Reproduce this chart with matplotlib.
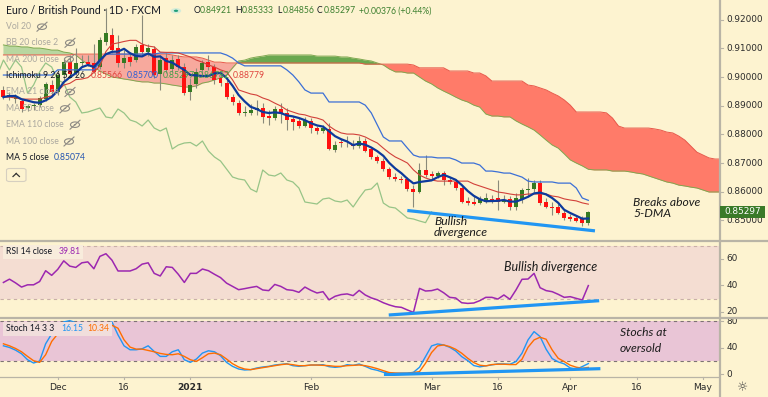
import numpy as np
import pandas as pd
import matplotlib
matplotlib.use("Agg")
import matplotlib.pyplot as plt
from matplotlib.patches import Rectangle, Ellipse, Circle, FancyBboxPatch
from matplotlib.lines import Line2D
from matplotlib.transforms import blended_transform_factory

plt.rcParams['font.family'] = ['Lato', 'DejaVu Sans']

# ---------------- data ----------------
first_date = '2020-11-18'
holidays = ['2020-12-25', '2021-01-01']

opens = [0.89548, 0.89304, 0.89234, 0.89164, 0.88920, 0.88990, 0.89025, 0.89234, 0.89722,
         0.89478, 0.90071, 0.90524, 0.90141, 0.90490, 0.90524, 0.90490, 0.90350, 0.91222, 0.91466,
         0.91013, 0.90490, 0.90699, 0.90594, 0.91117, 0.90873, 0.90978, 0.90106, 0.90664, 0.90280,
         0.90629, 0.90350, 0.89478, 0.89757, 0.90245, 0.90524, 0.90350, 0.89966, 0.89792, 0.89304,
         0.89094, 0.88746, 0.88746, 0.88850, 0.88920, 0.88641, 0.88571, 0.88885, 0.88746, 0.88536,
         0.88467, 0.88292, 0.88467, 0.88222, 0.88118, 0.88187, 0.87455, 0.87734, 0.87734, 0.87664,
         0.87595, 0.87769, 0.87490, 0.87211, 0.87071, 0.86792, 0.86513, 0.86443, 0.86443, 0.86095,
         0.85990, 0.86757, 0.86618, 0.86548, 0.86653, 0.86409, 0.86339, 0.86130, 0.85676, 0.85641,
         0.85606, 0.85641, 0.85746, 0.85781, 0.85641, 0.85746, 0.85467, 0.85746, 0.86060, 0.86095,
         0.86304, 0.85641, 0.85467, 0.85467, 0.85258, 0.85118, 0.85083, 0.85083, 0.84921]
highs = [0.89687, 0.89478, 0.89408, 0.89234, 0.89059, 0.89094, 0.89339, 0.89827, 0.89897,
         0.90245, 0.90664, 0.90769, 0.91013, 0.90769, 0.90769, 0.91152, 0.91396, 0.92408, 0.91710,
         0.91466, 0.90943, 0.90873, 0.91152, 0.92164, 0.91152, 0.91083, 0.90769, 0.90838, 0.90769,
         0.90769, 0.90490, 0.89966, 0.90315, 0.90594, 0.90769, 0.90455, 0.90106, 0.89897, 0.89408,
         0.89199, 0.88990, 0.89059, 0.89199, 0.89094, 0.88850, 0.88990, 0.89094, 0.88920, 0.88641,
         0.88571, 0.88606, 0.88571, 0.88292, 0.88327, 0.88397, 0.87769, 0.87839, 0.87943, 0.87804,
         0.87943, 0.87874, 0.87560, 0.87281, 0.87176, 0.86862, 0.86653, 0.86548, 0.86513, 0.86234,
         0.87002, 0.87281, 0.86723, 0.86723, 0.86723, 0.86513, 0.86443, 0.86199, 0.85816, 0.85885,
         0.85851, 0.85955, 0.85885, 0.86409, 0.85885, 0.85851, 0.85955, 0.86130, 0.86478, 0.86409,
         0.86409, 0.85781, 0.85641, 0.85571, 0.85362, 0.85223, 0.85188, 0.85153, 0.85333]
lows = [0.89234, 0.89199, 0.89094, 0.88780, 0.88815, 0.88850, 0.88955, 0.89164, 0.89373,
        0.89373, 0.89897, 0.89966, 0.90071, 0.90385, 0.90385, 0.90141, 0.90280, 0.91117, 0.90838,
        0.90350, 0.90315, 0.90385, 0.90524, 0.90769, 0.90734, 0.89966, 0.89548, 0.90141, 0.90176,
        0.90245, 0.89373, 0.89199, 0.89618, 0.90106, 0.90245, 0.89757, 0.89687, 0.89234, 0.89025,
        0.88676, 0.88641, 0.88676, 0.88676, 0.88397, 0.88327, 0.88501, 0.88397, 0.88153, 0.88153,
        0.88222, 0.88257, 0.88048, 0.88013, 0.88048, 0.87455, 0.87385, 0.87560, 0.87560, 0.87490,
        0.87525, 0.87385, 0.87141, 0.87002, 0.86723, 0.86443, 0.86374, 0.86304, 0.86025, 0.85467,
        0.85955, 0.86513, 0.86443, 0.86478, 0.86234, 0.86269, 0.86060, 0.85606, 0.85537, 0.85537,
        0.85571, 0.85606, 0.85606, 0.85362, 0.85606, 0.85362, 0.85362, 0.85606, 0.85816, 0.85990,
        0.85537, 0.85432, 0.85188, 0.85223, 0.85013, 0.84979, 0.84944, 0.84804, 0.84856]
closes = [0.89304, 0.89373, 0.89339, 0.88885, 0.88990, 0.89025, 0.89269, 0.89757, 0.89478,
          0.90071, 0.90524, 0.90106, 0.90490, 0.90524, 0.90455, 0.90176, 0.91292, 0.91536, 0.90943,
          0.90490, 0.90664, 0.90524, 0.91048, 0.90873, 0.91013, 0.90071, 0.90594, 0.90245, 0.90594,
          0.90350, 0.89443, 0.89722, 0.90176, 0.90490, 0.90350, 0.89897, 0.89792, 0.89304, 0.89129,
          0.88746, 0.88780, 0.88850, 0.88920, 0.88606, 0.88571, 0.88885, 0.88746, 0.88501, 0.88432,
          0.88292, 0.88501, 0.88222, 0.88118, 0.88222, 0.87490, 0.87629, 0.87699, 0.87717, 0.87595,
          0.87769, 0.87420, 0.87211, 0.87071, 0.86792, 0.86513, 0.86443, 0.86409, 0.86095, 0.85990,
          0.86757, 0.86583, 0.86548, 0.86653, 0.86409, 0.86339, 0.86130, 0.85641, 0.85606, 0.85571,
          0.85746, 0.85781, 0.85676, 0.85641, 0.85711, 0.85467, 0.85781, 0.86060, 0.86095, 0.86304,
          0.85606, 0.85467, 0.85432, 0.85258, 0.85083, 0.85048, 0.84979, 0.84921, 0.85297]

tenkan = [0.8930, 0.8930, 0.8927, 0.8923, 0.8923, 0.8923, 0.8923, 0.8930, 0.8934,
          0.8951, 0.8972, 0.8978, 0.8991, 0.8993, 0.8998, 0.9016, 0.9039, 0.9089, 0.9115,
          0.9119, 0.9124, 0.9128, 0.9128, 0.9115, 0.9108, 0.9105, 0.9087, 0.9086, 0.9086,
          0.9084, 0.9077, 0.9070, 0.9059, 0.9052, 0.9042, 0.9035, 0.9025, 0.9018, 0.8990,
          0.8955, 0.8948, 0.8941, 0.8937, 0.8927, 0.8920, 0.8909, 0.8899, 0.8885, 0.8878,
          0.8871, 0.8868, 0.8861, 0.8857, 0.8850, 0.8829, 0.8815, 0.8805, 0.8801, 0.8801,
          0.8798, 0.8791, 0.8780, 0.8770, 0.8752, 0.8735, 0.8721, 0.8711, 0.8700, 0.8676,
          0.8658, 0.8648, 0.8641, 0.8637, 0.8637, 0.8637, 0.8637, 0.8637, 0.8637, 0.8627,
          0.8620, 0.8613, 0.8606, 0.8599, 0.8596, 0.8592, 0.8589, 0.8589, 0.8592, 0.8592,
          0.8592, 0.8592, 0.8585, 0.8582, 0.8575, 0.8571, 0.8568, 0.8561, 0.85566]
kijun = [0.9007, 0.9007, 0.9007, 0.9007, 0.9007, 0.9007, 0.9007, 0.9007, 0.9007,
         0.9025, 0.9025, 0.9025, 0.9025, 0.9025, 0.9025, 0.9025, 0.9052, 0.9080, 0.9080,
         0.9080, 0.9080, 0.9080, 0.9080, 0.9080, 0.9080, 0.9080, 0.9084, 0.9084, 0.9084,
         0.9084, 0.9084, 0.9084, 0.9084, 0.9084, 0.9084, 0.9084, 0.9084, 0.9077, 0.9066,
         0.9049, 0.9039, 0.9039, 0.9039, 0.9039, 0.9039, 0.9039, 0.9039, 0.9025, 0.9007,
         0.8983, 0.8955, 0.8944, 0.8944, 0.8944, 0.8913, 0.8913, 0.8913, 0.8913, 0.8913,
         0.8913, 0.8902, 0.8875, 0.8833, 0.8791, 0.8777, 0.8777, 0.8777, 0.8752, 0.8728,
         0.8721, 0.8721, 0.8721, 0.8718, 0.8718, 0.8718, 0.8711, 0.8700, 0.8700, 0.8700,
         0.8693, 0.8672, 0.8672, 0.8669, 0.8665, 0.8665, 0.8658, 0.8651, 0.8637, 0.8634,
         0.8634, 0.8634, 0.8634, 0.8630, 0.8630, 0.8630, 0.8613, 0.8578, 0.85700]

# leading spans, from the first bar to 26 bars past the last bar
span_a = [0.9112, 0.9108, 0.9108, 0.9105, 0.9105, 0.9101, 0.9101, 0.9098, 0.9094,
          0.9094, 0.9087, 0.9084, 0.9077, 0.9059, 0.9045, 0.9035, 0.9021, 0.9011, 0.9000,
          0.8997, 0.8993, 0.8990, 0.8986, 0.8983, 0.8983, 0.8979, 0.8979, 0.8976, 0.8972,
          0.8969, 0.8965, 0.8965, 0.8969, 0.8979, 0.8983, 0.8990, 0.8997, 0.9007, 0.9032,
          0.9056, 0.9059, 0.9066, 0.9070, 0.9073, 0.9077, 0.9077, 0.9077, 0.9077, 0.9077,
          0.9077, 0.9077, 0.9077, 0.9073, 0.9073, 0.9073, 0.9073, 0.9070, 0.9070, 0.9066,
          0.9063, 0.9059, 0.9056, 0.9049, 0.9042, 0.9028, 0.9018, 0.9018, 0.9014, 0.9014,
          0.9000, 0.8986, 0.8976, 0.8962, 0.8951, 0.8941, 0.8930, 0.8920, 0.8913, 0.8902,
          0.8895, 0.8871, 0.8864, 0.8864, 0.8861, 0.8861, 0.8847, 0.8836, 0.8826, 0.8815,
          0.8798, 0.8780, 0.8763, 0.8752, 0.8732, 0.8711, 0.8700, 0.8690, 0.86782, 0.8676,
          0.8676, 0.8676, 0.8672, 0.8672, 0.8672, 0.8669, 0.8665, 0.8662, 0.8655, 0.8648,
          0.8641, 0.8634, 0.8630, 0.8623, 0.8620, 0.8616, 0.8613, 0.8606, 0.8599, 0.8599,
          0.8599, 0.8599, 0.8599, 0.8599, 0.8599]
span_b = [0.9077, 0.9077, 0.9077, 0.9077, 0.9077, 0.9077, 0.9077, 0.9077, 0.9077,
          0.9077, 0.9077, 0.9077, 0.9080, 0.9080, 0.9080, 0.9080, 0.9080, 0.9080, 0.9080,
          0.9080, 0.9080, 0.9080, 0.9080, 0.9080, 0.9080, 0.9080, 0.9080, 0.9080, 0.9077,
          0.9073, 0.9070, 0.9070, 0.9070, 0.9066, 0.9059, 0.9052, 0.9052, 0.9049, 0.9049,
          0.9049, 0.9049, 0.9049, 0.9049, 0.9049, 0.9049, 0.9049, 0.9049, 0.9049, 0.9049,
          0.9049, 0.9049, 0.9049, 0.9049, 0.9049, 0.9049, 0.9049, 0.9049, 0.9049, 0.9049,
          0.9049, 0.9045, 0.9045, 0.9045, 0.9045, 0.9045, 0.9045, 0.9045, 0.9045, 0.9042,
          0.9032, 0.9032, 0.9032, 0.9032, 0.9032, 0.9021, 0.9021, 0.9021, 0.9021, 0.9014,
          0.9014, 0.9004, 0.8986, 0.8986, 0.8986, 0.8986, 0.8986, 0.8986, 0.8972, 0.8969,
          0.8962, 0.8955, 0.8944, 0.8934, 0.8920, 0.8902, 0.8878, 0.8878, 0.88779, 0.8878,
          0.8878, 0.8875, 0.8857, 0.8829, 0.8822, 0.8822, 0.8822, 0.8822, 0.8822, 0.8819,
          0.8815, 0.8808, 0.8805, 0.8794, 0.8780, 0.8759, 0.8738, 0.8728, 0.8718, 0.8714,
          0.8714, 0.8714, 0.8714, 0.8714, 0.8714]

rsi = [42.2, 44.7, 41.9, 38.7, 40.4, 40.4, 42.9, 51.1, 47.6,
       52.1, 58.6, 54.6, 53.6, 57.1, 57.8, 52.6, 62.0, 64.0, 59.1,
       50.9, 50.9, 50.9, 52.6, 56.1, 57.1, 49.1, 47.1, 54.1, 53.6,
       48.4, 42.2, 49.1, 49.1, 52.4, 51.1, 48.4, 45.9, 41.7, 39.2,
       36.7, 37.5, 38.4, 39.2, 36.5, 36.0, 40.7, 39.2, 36.7, 36.2,
       34.7, 38.7, 36.2, 34.2, 35.2, 29.0, 31.7, 33.0, 33.5, 32.2,
       36.2, 32.7, 30.5, 29.0, 26.8, 25.1, 23.8, 23.3, 21.3, 19.5,
       37.7, 35.7, 36.0, 37.2, 34.4, 30.9, 30.4, 26.8, 26.3, 26.6,
       28.4, 30.9, 30.9, 29.6, 32.7, 29.4, 36.5, 44.6, 44.8, 49.1,
       38.2, 36.0, 35.2, 33.2, 30.9, 31.4, 30.1, 28.9, 39.81]
stoch_k = [43, 40.5, 36.5, 31, 22, 17, 20, 46, 61,
           71, 79, 81, 78, 74.5, 71, 67, 71, 75.5, 79,
           59.5, 43, 37, 37, 38.5, 43, 34.5, 27, 27, 34,
           37, 22, 18, 23, 32, 35.5, 34, 28, 18, 12,
           8, 6.5, 7, 9.5, 11, 12, 14, 15, 16, 13,
           12, 13, 14, 14, 14.5, 11.5, 10.5, 11.5, 14.5, 13.5,
           15.5, 12, 8, 6, 3, 1.6, 1, 1.6, 1.6, 3,
           10.6, 26.7, 42.8, 45.8, 44.3, 40.8, 35.3, 26.7, 20.7, 13.2,
           11.2, 12.7, 14.2, 15.7, 15.7, 15.2, 19.2, 31.8, 51.9, 64.4,
           56.9, 37.8, 23.7, 18.7, 15.7, 9.6, 7.6, 11.7, 16.15]
stoch_d = [46, 43, 39, 34, 27, 20.5, 18, 29.5, 49.5,
           61, 72, 78, 78, 76, 73, 71, 71, 73, 74,
           69.5, 52, 41, 38, 38, 36, 34, 31.5, 30, 29.5,
           31, 27, 22, 19.5, 25, 31, 32, 29.5, 23, 16,
           11, 8, 7, 8.5, 10, 11.5, 13, 14.5, 15.5, 14.5,
           13, 13, 14, 14, 13.5, 13, 12, 12, 13, 13.5,
           14, 13, 11, 8.5, 5.5, 2.6, 2, 1.6, 1.6, 2.6,
           4, 16.7, 32.8, 42.8, 44.3, 41.8, 37.8, 31.8, 24.2, 17.7,
           13.7, 12.7, 14.7, 15.2, 15.2, 14.7, 14.7, 22.7, 40.8, 51.9,
           55.9, 52.9, 36.8, 24.2, 19.2, 13.7, 10.7, 9.1, 10.34]

# hand-drawn trend lines (bar offset, value)
price_div = [(66.98, 0.85345), (98.1, 0.84635)]
rsi_div = [(63.9, 17.5), (98.8, 28.35)]
stoch_div = [(63.1, -0.6), (99.0, 8.5)]

price_ticks = [0.92, 0.91, 0.90, 0.89, 0.88, 0.87, 0.86, 0.85]
rsi_ticks = [60, 40, 20]
stoch_ticks = [80, 40, 0]
time_tick_dates = ['2020-12-01', '2020-12-16', '2021-01-04', '2021-02-01', '2021-03-01',
                   '2021-03-16', '2021-04-01', '2021-04-16', '2021-05-03']
time_tick_labels = ['Dec', '16', '2021', 'Feb', 'Mar', '16', 'Apr', '16', 'May']

# ---------------- derived ----------------
o = np.array(opens); h = np.array(highs); l = np.array(lows); c = np.array(closes)
n = len(c)
xb = np.arange(n)
cal = pd.bdate_range(first_date, '2021-06-30')
cal = cal[~cal.isin(pd.to_datetime(holidays))]
tick_pos = [cal.get_loc(pd.Timestamp(d)) for d in time_tick_dates]
ma5 = pd.Series(c).rolling(5, min_periods=1).mean().values
sa = np.array(span_a); sb = np.array(span_b)
xc = np.arange(len(sa))

# ---------------- style ----------------
W, H = 768, 397
BG = '#FDF3D0'
GREEN = '#357A22'
RED = '#FF1010'
WICK = '#8A8A7A'
DIVBLUE = '#2196F3'
TXT = '#131722'
GRAY = '#ABA89F'
AXC = '#B9B4A6'

def fx(px):
    return px / W

def fy(py):
    return 1 - py / H

fig = plt.figure(figsize=(7.68, 3.97), dpi=100)
fig.patch.set_facecolor(BG)

XL = (-0.569, 118.67)
ax = fig.add_axes([0, fy(241), fx(719), 241 / H])
ax_r = fig.add_axes([0, fy(317), fx(719), 75 / H])
ax_s = fig.add_axes([0, fy(376), fx(719), 57.5 / H])
for a in (ax, ax_r, ax_s):
    a.set_facecolor(BG)
    a.set_xlim(*XL)
    a.set_xticks([]); a.set_yticks([])
    for s in a.spines.values():
        s.set_visible(False)

P_TOP, P_BOT = 0.92687, 0.84281
ax.set_ylim(P_BOT, P_TOP)
ax_r.set_ylim(15.98, 72.9)
ax_s.set_ylim(-2.57, 84.2)

# ---- Ichimoku cloud ----
split = 38.8
ax.fill_between(xc, sa, sb, where=(sa >= sb) & (xc <= split + 0.5), interpolate=True,
                color='#B9D7A0', lw=0, zorder=1)
ax.fill_between(xc, sa, sb, where=(sa < sb) & (xc <= split + 0.5), interpolate=True,
                color='#F7A99D', lw=0, zorder=1)
ax.fill_between(xc, sa, sb, where=(sa >= sb) & (xc >= split - 0.5), interpolate=True,
                color='#6AA84F', lw=0, zorder=1)
ax.fill_between(xc, sa, sb, where=(sa < sb) & (xc >= split - 0.5), interpolate=True,
                color='#FF7B69', lw=0, zorder=1)
ax.plot(xc, sa, color='#7FA850', lw=0.7, zorder=1.5)
ax.plot(xc, sb, color='#E8574A', lw=0.7, zorder=1.5)

# lagging span
ax.plot(xb - 26, c, color='#97C487', lw=0.9, zorder=2)

# ---- candles ----
up = c >= o
ax.vlines(xb, l, h, color=WICK, lw=0.8, zorder=3)
body_lo = np.minimum(o, c)
body_h = np.maximum(np.abs(c - o), 0.00012)
ax.bar(xb, body_h, bottom=body_lo, width=0.66, color=np.where(up, GREEN, RED), lw=0, zorder=4)

# conversion / base lines and MA5
ax.plot(xb, kijun, color='#3B6FD6', lw=0.9, zorder=5)
ax.plot(xb, tenkan, color='#D2403A', lw=0.8, zorder=5)
ax.plot(xb, ma5, color='#0D3A9C', lw=1.6, zorder=6)

# divergence line
ax.plot([p[0] for p in price_div], [p[1] for p in price_div], color=DIVBLUE, lw=2.3,
        solid_capstyle='butt', zorder=7)

# ---- RSI ----
ax_r.axhspan(30, 70, color='#F4DDD2', lw=0, zorder=0)
for lvl in (30, 70):
    ax_r.axhline(lvl, color='#C9AFA8', lw=0.8, ls=(0, (3, 3)), zorder=1)
ax_r.plot(xb, rsi, color='#9C27B0', lw=1.1, zorder=3)
ax_r.plot([p[0] for p in rsi_div], [p[1] for p in rsi_div], color=DIVBLUE, lw=2.3,
          solid_capstyle='butt', zorder=4)

# ---- Stoch ----
ax_s.axhspan(20, 80, color='#E9C5D6', lw=0, zorder=0)
for lvl in (20, 80):
    ax_s.axhline(lvl, color='#7D7373', lw=0.8, ls=(0, (3, 3)), zorder=1)
ax_s.plot(xb, stoch_k, color='#2196F3', lw=1.0, zorder=3)
ax_s.plot(xb, stoch_d, color='#FF6D00', lw=1.0, zorder=3)
ax_s.plot([p[0] for p in stoch_div], [p[1] for p in stoch_div], color=DIVBLUE, lw=2.3,
          solid_capstyle='butt', zorder=4)

# ---------------- frame lines ----------------
def fline(x0, y0, x1, y1, color=AXC, lw=1.0, z=5):
    fig.add_artist(Line2D([fx(x0), fx(x1)], [fy(y0), fy(y1)], transform=fig.transFigure,
                          color=color, lw=lw, zorder=z))

fline(0, 241.5, 768, 241.5, lw=1.6)
fline(0, 317.8, 768, 317.8, lw=1.6)
fline(0, 376.5, 719, 376.5, lw=0.9)
fline(719.5, 0, 719.5, 397, lw=1.6)

# ---------------- axis labels ----------------
AXFONT = dict(fontsize=6.4, color='#2B2B2B', family='DejaVu Sans')
for a, ticks, fmt in ((ax, price_ticks, '{:.5f}'), (ax_r, rsi_ticks, '{:d}'), (ax_s, stoch_ticks, '{:d}')):
    tr = blended_transform_factory(fig.transFigure, a.transData)
    for t in ticks:
        a.text(fx(726.5), t, fmt.format(t), transform=tr, va='center', ha='left',
               clip_on=False, **AXFONT)
        a.add_line(Line2D([fx(719.5), fx(723)], [t, t], transform=tr, color=AXC, lw=0.8,
                          clip_on=False))

# last price tag
fig.add_artist(Rectangle((fx(719.5), fy(217.6)), fx(765) - fx(719.5), 11.6 / H,
                         transform=fig.transFigure, facecolor='#3A7A28', edgecolor='none', zorder=6))
fig.text(fx(742.5), fy(211.8), '{:.5f}'.format(closes[-1]), color='white', ha='center',
         va='center', fontsize=6.4, family='DejaVu Sans', zorder=7)

# time axis
trx = blended_transform_factory(ax_s.transData, fig.transFigure)
for pos, lab in zip(tick_pos, time_tick_labels):
    ax_s.text(pos, fy(387.5), lab, transform=trx, ha='center', va='center', clip_on=False,
              fontsize=6.6, color='#2B2B2B', family='DejaVu Sans',
              fontweight='bold' if lab == '2021' else 'normal')
    ax_s.add_line(Line2D([pos, pos], [fy(376.5), fy(379)], transform=trx, color=AXC, lw=0.8,
                         clip_on=False))
fig.text(fx(743), fy(387.5), '\u263c', ha='center', va='center', fontsize=9, color='#444444',
         family='DejaVu Sans')

# ---------------- annotations ----------------
ANN = dict(color='#1C1C1C', style='italic', fontsize=8.7, va='center', ha='left')
fig.text(fx(434), fy(221.7), 'Bullish', **ANN)
fig.text(fx(434), fy(232.8), 'divergence', **ANN)
fig.text(fx(633), fy(202.7), 'Breaks above', **ANN)
fig.text(fx(633), fy(213.7), '5-DMA', **ANN)
fig.text(fx(504), fy(267), 'Bullish divergence', fontsize=9.0, color='#1C1C1C', style='italic',
         va='center', ha='left')
fig.text(fx(620), fy(333), 'Stochs at', **ANN)
fig.text(fx(620), fy(348), 'oversold', **ANN)

# ---------------- legends ----------------
def eye(xp, yp):
    fig.add_artist(Ellipse((fx(xp), fy(yp)), 9 / W, 5.5 / H, transform=fig.transFigure,
                           facecolor='none', edgecolor='#8E8B84', lw=0.8, zorder=8))
    fig.add_artist(Circle((fx(xp), fy(yp)), 1.2 / W, transform=fig.transFigure,
                          facecolor='#8E8B84', edgecolor='none', zorder=8))
    fline(xp - 5, yp + 4.5, xp + 5, yp - 4.5, color='#8E8B84', lw=0.8, z=8)

LEG = dict(fontsize=6.2, va='center', ha='left', zorder=9)
VAL = dict(fontsize=6.2, va='center', ha='left', zorder=9)
fig.text(fx(6), fy(10.8), 'Euro / British Pound \u00b7 1D \u00b7 FXCM', color=TXT, fontsize=7.6,
         va='center', ha='left', zorder=9)
fig.add_artist(Circle((fx(176), fy(10.8)), 5.2 / W, transform=fig.transFigure,
                      facecolor='#D5ECD9', edgecolor='none', zorder=8))
fig.add_artist(Circle((fx(176), fy(10.8)), 2.2 / W, transform=fig.transFigure,
                      facecolor='#1E9E7A', edgecolor='none', zorder=9))
VG = '#3C7F2E'
for xl, lab, xv, val in ((193.3, 'O', 199.5, '0.84921'), (235.3, 'H', 241.3, '0.85333'),
                         (277.3, 'L', 282.5, '0.84856'), (317.0, 'C', 323.3, '0.85297')):
    fig.text(fx(xl), fy(10.8), lab, color=TXT, **VAL)
    fig.text(fx(xv), fy(10.8), val, color=VG, **VAL)
fig.text(fx(359), fy(10.8), '+0.00376 (+0.44%)', color=VG, **VAL)

rows = [('Vol 20', 26.7, 42), ('BB 20 close 2', 42.8, 70), ('MA 200 close', 59.3, 69),
        ('EMA 21 close', 92.0, 70), ('MA 50 close', 108.4, 65), ('EMA 110 close', 124.7, 75),
        ('MA 100 close', 141.5, 69)]
for lab, yp, xe in rows:
    fig.text(fx(6), fy(yp), lab, color=GRAY, **LEG)
    eye(xe, yp)

fig.text(fx(6), fy(76), 'Ichimoku 9 26 52 26', color=TXT, **LEG)
for xv, val, col in ((90.7, '0.85566', '#E0453E'), (126.7, '0.85700', '#2F5FD0'),
                     (162.3, '0.85297', '#43A047'), (197.3, '0.86782', '#43A047'),
                     (232.3, '0.88779', '#E0453E')):
    fig.text(fx(xv), fy(76), val, color=col, **VAL)
fig.text(fx(6), fy(157.3), 'MA 5 close', color=TXT, **LEG)
fig.text(fx(53.3), fy(157.3), '0.85074', color='#2454B0', **VAL)
fig.add_artist(FancyBboxPatch((fx(6.5), fy(181.5)), 19.5 / W, 13 / H, boxstyle='round,pad=0,rounding_size=0.004',
                              transform=fig.transFigure, facecolor=BG, edgecolor='#D6CFC0', lw=0.8, zorder=8))
fline(13, 176.5, 16.2, 173.5, color='#333333', lw=0.9, z=9)
fline(16.2, 173.5, 19.4, 176.5, color='#333333', lw=0.9, z=9)

# RSI legend
fig.add_artist(Rectangle((fx(3), fy(258.5)), 80 / W, 14 / H, transform=fig.transFigure,
                         facecolor='#F8ECDC', edgecolor='none', zorder=8))
fig.text(fx(6), fy(251.5), 'RSI 14 close', color=TXT, **LEG)
fig.text(fx(59), fy(251.5), '39.81', color='#9C27B0', **VAL)
# Stoch legend
fig.add_artist(Rectangle((fx(3), fy(335.5)), 109 / W, 14 / H, transform=fig.transFigure,
                         facecolor='#F1DEDC', edgecolor='none', zorder=8))
fig.text(fx(6), fy(328.5), 'Stoch 14 3 3', color=TXT, **LEG)
fig.text(fx(61), fy(328.5), '16.15', color='#2196F3', **VAL)
fig.text(fx(87), fy(328.5), '10.34', color='#FF6D00', **VAL)

fig.savefig('out.png', dpi=100, facecolor=BG)
